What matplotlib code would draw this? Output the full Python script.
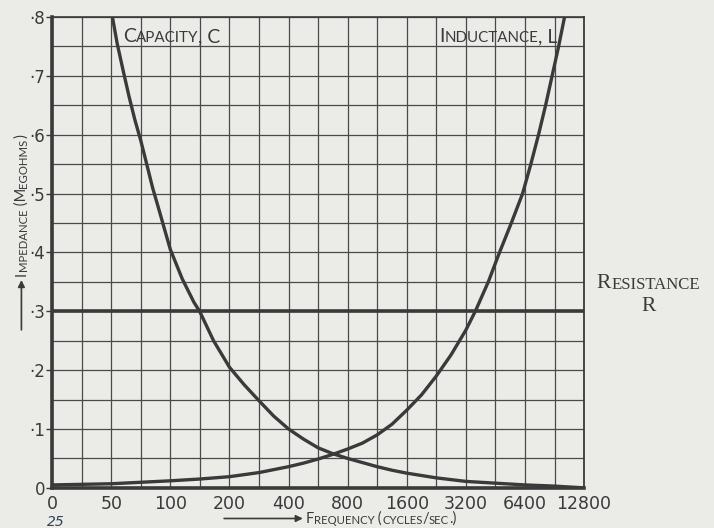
import numpy as np
import matplotlib
matplotlib.use("Agg")
import matplotlib.pyplot as plt
from matplotlib.ticker import FixedLocator, NullFormatter

# Frequency ticks (cycles/sec) on the doubling scale, and the labels printed
freq_ticks = [25, 50, 100, 200, 400, 800, 1600, 3200, 6400, 12800]
freq_labels = ["0", "50", "100", "200", "400", "800", "1600", "3200", "6400", "12800"]
imp_ticks = [0, 0.1, 0.2, 0.3, 0.4, 0.5, 0.6, 0.7, 0.8]
imp_labels = ["0", "·1", "·2", "·3", "·4", "·5", "·6", "·7", "·8"]

# Capacity C reactance (megohms)
cap_freq = [50.7, 53.6, 57.4, 61.6, 66.0, 70.7, 75.8, 81.2, 87.1, 93.3, 100,
            115, 132, 141, 166, 200, 238, 283, 336, 400, 476, 566, 673, 800,
            951, 1131, 1345, 1600, 2263, 3200, 4525, 6400, 9051, 12800]
cap_imp = [0.80, 0.755, 0.71, 0.665, 0.625, 0.59, 0.55, 0.51, 0.475, 0.44, 0.405,
           0.355, 0.315, 0.30, 0.25, 0.205, 0.175, 0.148, 0.122, 0.100, 0.083,
           0.068, 0.058, 0.050, 0.043, 0.036, 0.030, 0.025, 0.017, 0.011, 0.008,
           0.005, 0.003, 0.0]

# Inductance L reactance (megohms)
ind_freq = [25, 50, 100, 141, 200, 283, 400, 476, 566, 673, 800, 951, 1131, 1345,
            1600, 1903, 2263, 2691, 3200, 3576, 4165, 4750, 5456, 6226, 6859,
            7506, 8156, 8802, 9500, 10183]
ind_imp = [0.005, 0.007, 0.012, 0.015, 0.019, 0.026, 0.036, 0.042, 0.049, 0.057,
           0.066, 0.076, 0.090, 0.108, 0.132, 0.158, 0.190, 0.226, 0.268, 0.30,
           0.35, 0.40, 0.45, 0.50, 0.55, 0.60, 0.65, 0.70, 0.75, 0.80]

# Resistance R (megohms), constant
resistance = 0.3

PAPER = "#ebebe8"
INK = "#3a3a3a"


def small_caps(ax, x, y, label, size, rotation=0, transform=None, family="Lato"):
    """
    Writes label in small capitals: capitals at full size, the rest
    as capitals at a smaller size, chained one piece after another.
    """
    chunks = []
    for ch in label:
        big = not ch.islower()
        if chunks and chunks[-1][1] == big:
            chunks[-1][0] += ch.upper()
        else:
            chunks.append([ch.upper(), big])

    if transform is None:
        transform = ax.transAxes
    if rotation == 90:
        ha, va, nxt = "right", "bottom", (1, 1)
    else:
        ha, va, nxt = "left", "bottom", (1, 0)

    prev = None
    for text, big in chunks:
        fs = size if big else size * 0.78
        if prev is None:
            prev = ax.text(x, y, text, fontsize=fs, rotation=rotation, ha=ha, va=va,
                           transform=transform, color=INK, family=family)
        else:
            prev = ax.annotate(text, xy=nxt, xycoords=prev, fontsize=fs,
                               rotation=rotation, ha=ha, va=va, color=INK,
                               family=family, annotation_clip=False)
    return prev


def main():
    fig = plt.figure(figsize=(7.14, 5.28), dpi=100, facecolor=PAPER)
    ax = fig.add_axes([0.073, 0.076, 0.745, 0.892], facecolor=PAPER)

    ax.set_xscale("log", base=2)
    ax.set_xlim(25, 12800)
    ax.set_ylim(0, 0.8)

    # grid at every label and half-way between
    ax.xaxis.set_major_locator(FixedLocator(freq_ticks))
    ax.set_xticklabels(freq_labels)
    ax.xaxis.set_minor_locator(FixedLocator([f * np.sqrt(2) for f in freq_ticks[:-1]]))
    ax.xaxis.set_minor_formatter(NullFormatter())
    ax.yaxis.set_major_locator(FixedLocator(imp_ticks))
    ax.set_yticklabels(imp_labels)
    ax.yaxis.set_minor_locator(FixedLocator(np.arange(0.05, 0.8, 0.1)))
    ax.grid(True, which="both", color="#4a4a4a", linewidth=0.9)

    ax.tick_params(axis="x", which="both", length=0, pad=5, labelsize=12.5, colors=INK)
    ax.tick_params(axis="y", which="major", length=4, width=1, pad=1, labelsize=12, colors=INK)
    ax.tick_params(axis="y", which="minor", length=0)

    for side, lw in (("left", 2.6), ("bottom", 2.6), ("right", 1.3), ("top", 1.2)):
        ax.spines[side].set_linewidth(lw)
        ax.spines[side].set_color(INK)

    ax.plot(cap_freq, cap_imp, color=INK, linewidth=2.4, clip_on=True)
    ax.plot(ind_freq, ind_imp, color=INK, linewidth=2.4, clip_on=True)
    ax.axhline(resistance, color=INK, linewidth=2.6)

    small_caps(ax, 0.133, 0.940, "Capacity, C", 14)
    small_caps(ax, 0.727, 0.940, "Inductance, L", 14)

    # resistance label outside the frame on the right
    small_caps(ax, 0.836, 0.445, "Resistance", 15.5, transform=fig.transFigure,
               family="Liberation Serif")
    fig.text(0.908, 0.437, "R", fontsize=15.5, ha="center", va="top",
             family="Liberation Serif", color=INK)

    # axis titles with the old style arrows
    ax.annotate("", xy=(0.030, 0.475), xytext=(0.030, 0.370), xycoords="figure fraction",
                arrowprops=dict(arrowstyle="-|>", color=INK, lw=1.2, mutation_scale=10))
    small_caps(ax, 0.040, 0.478, "Impedance (Megohms)", 10.5, rotation=90,
               transform=fig.transFigure)

    ax.annotate("", xy=(0.428, 0.018), xytext=(0.310, 0.018), xycoords="figure fraction",
                arrowprops=dict(arrowstyle="-|>", color=INK, lw=1.2, mutation_scale=10))
    small_caps(ax, 0.428, 0.004, "Frequency (cycles/sec.)", 10.5, transform=fig.transFigure)

    # pencilled correction under the origin
    fig.text(0.066, 0.003, "25", fontsize=10, color="#33405a", style="italic")

    fig.savefig("out.png", dpi=100, facecolor=PAPER)


if __name__ == "__main__":
    main()
